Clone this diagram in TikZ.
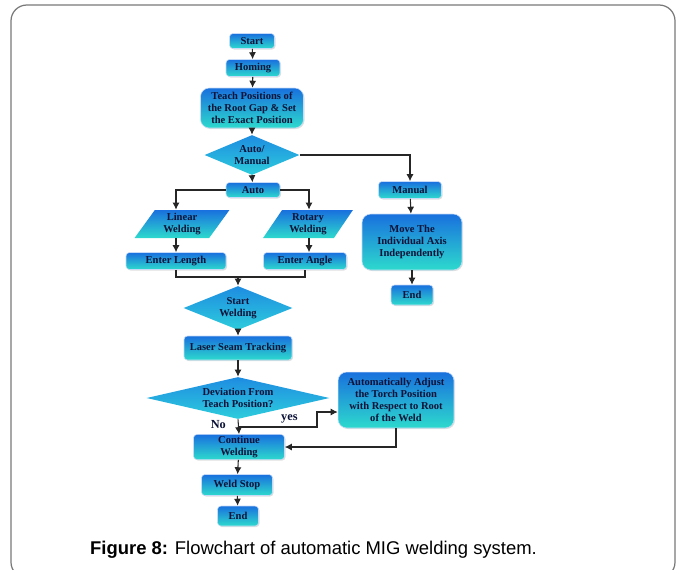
\documentclass[tikz,border=0pt]{standalone}
\usepackage{fontspec}
\setmainfont{Liberation Serif}
\setsansfont{Liberation Sans}
\usetikzlibrary{calc,shapes.geometric,arrows.meta,shadows}

\definecolor{boxtop}{RGB}{25,112,222}
\definecolor{boxbot}{RGB}{45,218,205}
\definecolor{dmdtop}{RGB}{30,140,225}
\definecolor{dmdbot}{RGB}{45,205,220}
\definecolor{boxtext}{RGB}{12,18,55}
\definecolor{frame}{RGB}{120,120,120}

\tikzset{
    box/.style={rectangle, rounded corners=2pt, top color=boxtop, bottom color=boxbot,
        draw=white!75!boxtop, line width=0.3pt, text=boxtext, align=center, inner sep=1pt,
        font=\fontsize{6}{6.8}\selectfont\bfseries,
        drop shadow={opacity=0.25, shadow xshift=0.6pt, shadow yshift=-0.6pt}},
    bigbox/.style={box, rounded corners=5pt},
    dmd/.style={diamond, top color=dmdtop, bottom color=dmdbot, inner sep=0pt},
    dmdtext/.style={text=boxtext, align=center, inner sep=0pt,
        font=\fontsize{6}{6.8}\selectfont\bfseries},
    para/.style={trapezium, trapezium left angle=57, trapezium right angle=123,
        trapezium stretches=true, top color=boxtop, bottom color=boxbot, text=boxtext,
        align=center, inner sep=0pt, font=\fontsize{6}{6.8}\selectfont\bfseries},
    flow/.style={draw=black!85, line width=0.6pt, -{Latex[length=4pt,width=4pt]}},
    link/.style={draw=black!85, line width=0.6pt},
    lbl/.style={text=boxtext, font=\fontsize{7}{8}\selectfont\bfseries}
}

\begin{document}
\begin{tikzpicture}[x=0.02cm,y=-0.02cm]
    \useasboundingbox (0,0) rectangle (680,569);
    \begin{scope}
        \clip (0,0) rectangle (680,569);
        \draw[frame, line width=0.7pt, rounded corners=9] (11,5) rectangle (675,578);
    \end{scope}

    \node[box, minimum width=0.9cm, minimum height=0.3cm] (start) at (252,41) {Start};
    \node[box, minimum width=1.08cm, minimum height=0.34cm] (homing) at (253,68) {Homing};
    \node[bigbox, minimum width=2.06cm, minimum height=0.8cm] (teach) at (252,108)
        {Teach Positions of\\the Root Gap \& Set\\the Exact Position};
    \node[dmd, minimum width=1.9cm, minimum height=0.8cm] (automan) at (252,155) {};
    \node[dmdtext] (automantext) at (automan) {Auto/\\Manual};
    \node[box, minimum width=1.08cm, minimum height=0.3cm] (auto) at (253,190) {Auto};
    \node[para, minimum width=1.9cm, minimum height=0.56cm] (linear) at (182,224) {Linear\\Welding};
    \node[para, minimum width=1.8cm, minimum height=0.56cm] (rotary) at (308,224) {Rotary\\Welding};
    \node[box, minimum width=2.0cm, minimum height=0.34cm] (length) at (176,261) {Enter Length};
    \node[box, minimum width=1.66cm, minimum height=0.34cm] (angle) at (305,261) {Enter Angle};
    \node[dmd, minimum width=2.18cm, minimum height=0.88cm] (startweld) at (238,308) {};
    \node[dmdtext] (startweldtext) at (startweld) {Start\\Welding};
    \node[box, minimum width=2.16cm, minimum height=0.48cm] (laser) at (238,348) {Laser Seam Tracking};
    \node[dmd, minimum width=3.66cm, minimum height=0.84cm] (deviation) at (238,398) {};
    \node[dmdtext] (deviationtext) at (deviation) {Deviation From\\Teach Position?};
    \node[bigbox, minimum width=2.32cm, minimum height=1.12cm] (adjust) at (396,400)
        {Automatically Adjust\\the Torch Position\\with Respect to Root\\of the Weld};
    \node[box, minimum width=1.82cm, minimum height=0.48cm] (continue) at (239,447) {Continue\\Welding};
    \node[box, minimum width=1.42cm, minimum height=0.42cm] (weldstop) at (237,485) {Weld Stop};
    \node[box, minimum width=0.82cm, minimum height=0.4cm] (end) at (238,516) {End};
    \node[box, minimum width=1.26cm, minimum height=0.34cm] (manual) at (410,190) {Manual};
    \node[bigbox, minimum width=2.0cm, minimum height=1.12cm] (move) at (412,242)
        {Move The\\Individual Axis\\Independently};
    \node[box, minimum width=0.84cm, minimum height=0.4cm] (endright) at (412,295) {End};

    \draw[flow] (start) -- (homing);
    \draw[flow] (homing) -- (teach);
    \draw[flow] (teach) -- (automan.north);
    \draw[flow] (automan.south) -- (auto);
    \draw[flow] (automan.east) -| (manual.north);
    \draw[flow] (manual) -- (move);
    \draw[flow] (move) -- (endright);
    \draw[flow] (auto.west) -| (length |- linear.north);
    \draw[flow] (auto.east) -| (rotary.north -| 309,0);
    \draw[flow] (length |- linear.south) -- (length.north);
    \draw[flow] (309,0 |- rotary.south) -- (309,0 |- angle.north);
    \coordinate (join) at (238,277);
    \draw[link] (length.south) |- (join) -| (angle.south);
    \draw[flow] (join) -- (startweld.north);
    \draw[flow] (startweld.south) -- (laser);
    \draw[flow] (laser) -- (deviation.north);
    \draw[flow] (deviation.south) -- (continue.north);
    \node[lbl, anchor=east] (no) at (232,425) {No};
    \coordinate (yesfork) at (238,427);
    \coordinate (yesbend) at (317,427);
    \draw[flow] (yesfork) -- node[lbl, pos=0.65, above=-1.2pt] (yes) {yes} (yesbend)
        |- ([yshift=-0.24cm]adjust.west);
    \draw[flow] (adjust.south) |- (continue.east);
    \draw[flow] (continue) -- (weldstop);
    \draw[flow] (weldstop) -- (end);

    \node[anchor=west, font=\sffamily\fontsize{10.5}{12}\selectfont] (caption) at (84,550)
        {\textbf{Figure 8:} Flowchart of automatic MIG welding system.};
\end{tikzpicture}
\end{document}
